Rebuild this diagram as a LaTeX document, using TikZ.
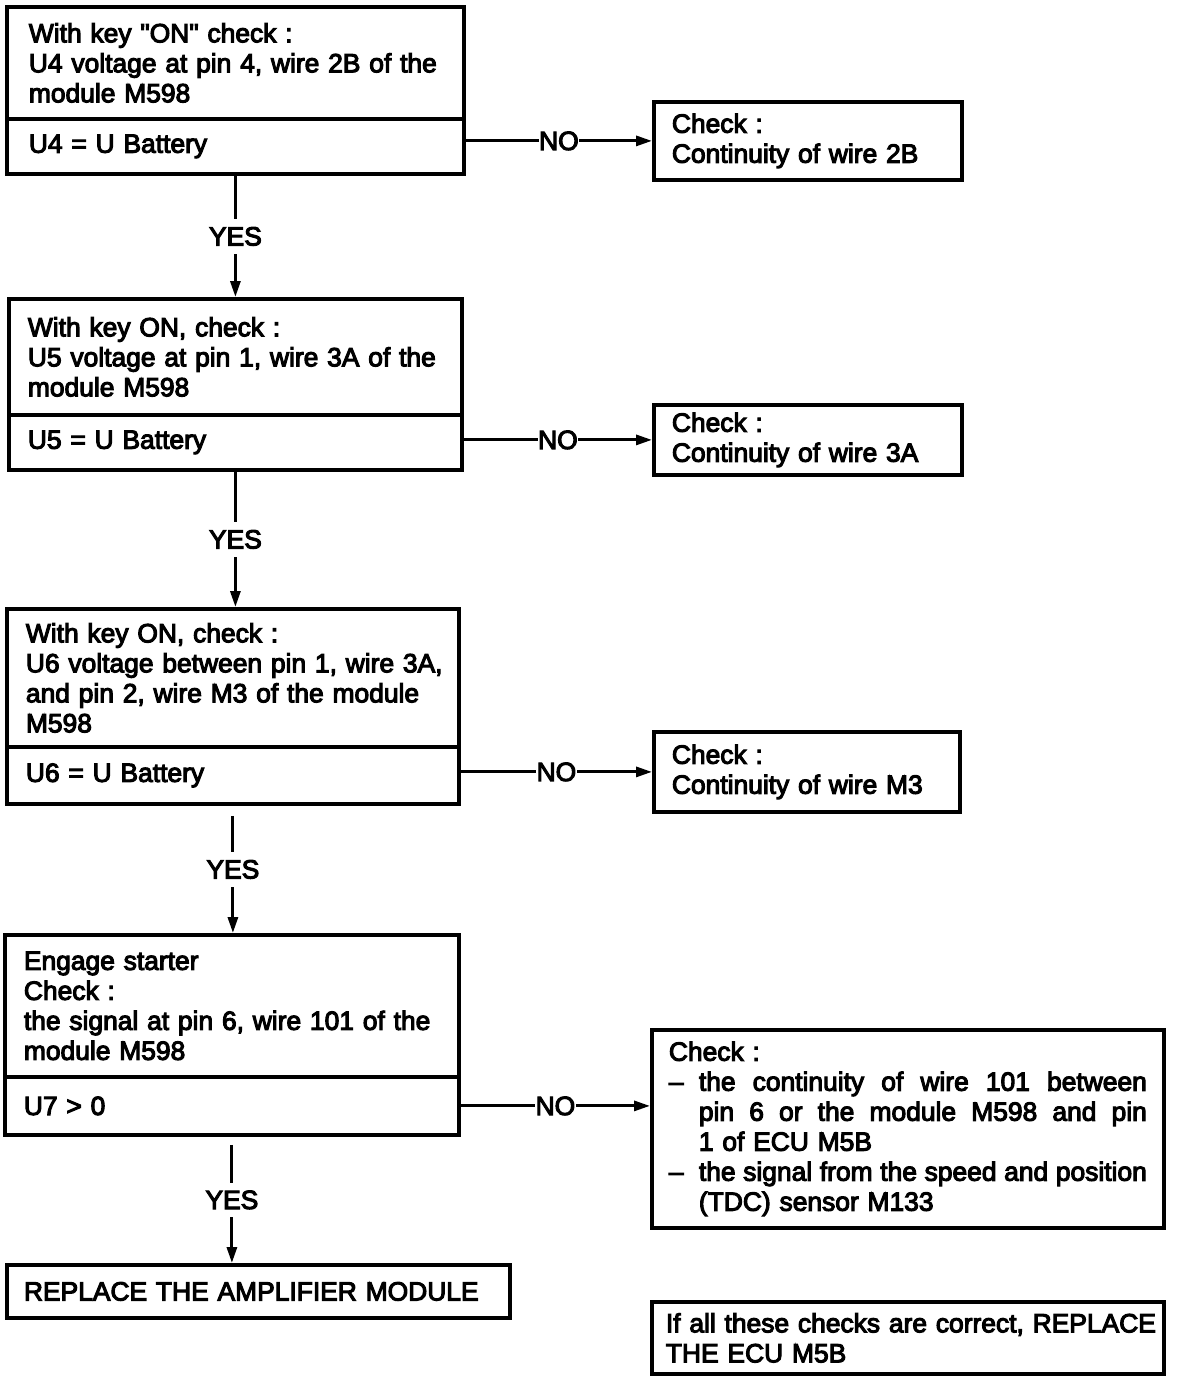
\documentclass[tikz,border=0pt]{standalone}
\usepackage{fontspec}
\setmainfont{Liberation Sans}[Ligatures=TeXOff, FakeBold=4]
\usetikzlibrary{arrows.meta}
\begin{document}
\begin{tikzpicture}[x=0.5pt,y=-0.5pt,
  every node/.style={font=\fontsize{13.2pt}{15pt}\selectfont},
  box/.style={draw, line width=1.9pt, anchor=north west, align=left, inner ysep=2pt},
  conn/.style={line width=1.5pt},
  arr/.style={conn, -{Triangle[length=8pt,width=5pt]}},
  nolbl/.style={fill=white, inner xsep=0.3pt, inner ysep=2pt},
  yeslbl/.style={fill=white, inner xsep=2pt, inner ysep=4pt},
]
\useasboundingbox (0,0) rectangle (1184,1376);

% step 1
\node[box, minimum width=228.5pt, minimum height=56pt, text width=206.5pt, inner xsep=11pt] (q1) at (5,5)
  {\mbox{With key "ON" check :}\\\mbox{U4 voltage at pin 4, wire 2B of the}\\\mbox{module M598}};
\node[box, minimum width=228.5pt, minimum height=27.5pt, text width=206.5pt, inner xsep=11pt] (c1) at (5,117)
  {U4 = U Battery};
\node[box, minimum width=154pt, minimum height=39pt, text width=136pt, inner xsep=9pt] (k1) at (652,100)
  {Check :\\\mbox{Continuity of wire 2B}};

% step 2
\node[box, minimum width=226.5pt, minimum height=58pt, text width=207.5pt, inner xsep=9.5pt] (q2) at (7,297)
  {\mbox{With key ON, check :}\\\mbox{U5 voltage at pin 1, wire 3A of the}\\\mbox{module M598}};
\node[box, minimum width=226.5pt, minimum height=27.5pt, text width=207.5pt, inner xsep=9.5pt] (c2) at (7,413)
  {U5 = U Battery};
\node[box, minimum width=154pt, minimum height=35pt, text width=136pt, inner xsep=9pt] (k2) at (652,403)
  {Check :\\\mbox{Continuity of wire 3A}};

% step 3
\node[box, minimum width=226pt, minimum height=69pt, text width=207pt, inner xsep=9.5pt] (q3) at (5,607)
  {\mbox{With key ON, check :}\\\mbox{U6 voltage between pin 1, wire 3A,}\\\mbox{and pin 2, wire M3 of the module}\\M598};
\node[box, minimum width=226pt, minimum height=28.5pt, text width=207pt, inner xsep=9.5pt] (c3) at (5,745)
  {U6 = U Battery};
\node[box, minimum width=153pt, minimum height=40pt, text width=135pt, inner xsep=9pt] (k3) at (652,730)
  {Check :\\\mbox{Continuity of wire M3}};

% step 4
\node[box, minimum width=227pt, minimum height=71pt, text width=208pt, inner xsep=9.5pt] (q4) at (3,933)
  {\mbox{Engage starter}\\Check :\\\mbox{the signal at pin 6, wire 101 of the}\\\mbox{module M598}};
\node[box, minimum width=227pt, minimum height=29pt, text width=208pt, inner xsep=9.5pt] (c4) at (3,1075)
  {U7 > 0};
\node[box, minimum width=256pt, minimum height=99pt, text width=239pt, inner xsep=8.5pt] (k4) at (650,1028)
  {Check :\\
   \makebox[15pt][l]{–}\hbox to 224pt{the \hfill continuity \hfill of \hfill wire \hfill 101 \hfill between}\\
   \hspace*{15pt}\hbox to 224pt{pin \hfill 6 \hfill or \hfill the \hfill module \hfill M598 \hfill and \hfill pin}\\
   \hspace*{15pt}\mbox{1 of ECU M5B}\\
   \makebox[15pt][l]{–}\hbox to 224pt{\spaceskip=0.2em plus 1fil\relax the signal from the speed and position}\\
   \hspace*{15pt}\mbox{(TDC) sensor M133}};

% final boxes
\node[box, minimum width=251.5pt, minimum height=26.5pt, text width=234.5pt, inner xsep=8.5pt] (r) at (5,1263)
  {\mbox{REPLACE THE AMPLIFIER MODULE}};
\node[box, minimum width=256pt, minimum height=36pt, text width=242pt, inner xsep=7pt] (e) at (650,1300)
  {\mbox{If all these checks are correct, REPLACE}\\\mbox{THE ECU M5B}};

% connectors
\draw[arr] (k1.west -| c1.east) -- node[nolbl]{NO} (k1.west);
\draw[arr] (k2.west -| c2.east) -- node[nolbl]{NO} (k2.west);
\draw[arr] (k3.west -| c3.east) -- node[nolbl]{NO} (k3.west);
\draw[arr] (c4.east) -- node[nolbl]{NO} (c4.east -| k4.west);

\draw[arr] (c1.south) -- node[yeslbl]{YES} (c1.south |- q2.north);
\draw[arr] (c2.south) -- node[yeslbl]{YES} (c2.south |- q3.north);
\draw[arr, shorten <=5pt] (c3.south) -- node[yeslbl]{YES} (c3.south |- q4.north);
\draw[arr, shorten <=4pt] (c4.south) -- node[yeslbl]{YES} (c4.south |- r.north);
\end{tikzpicture}
\end{document}
